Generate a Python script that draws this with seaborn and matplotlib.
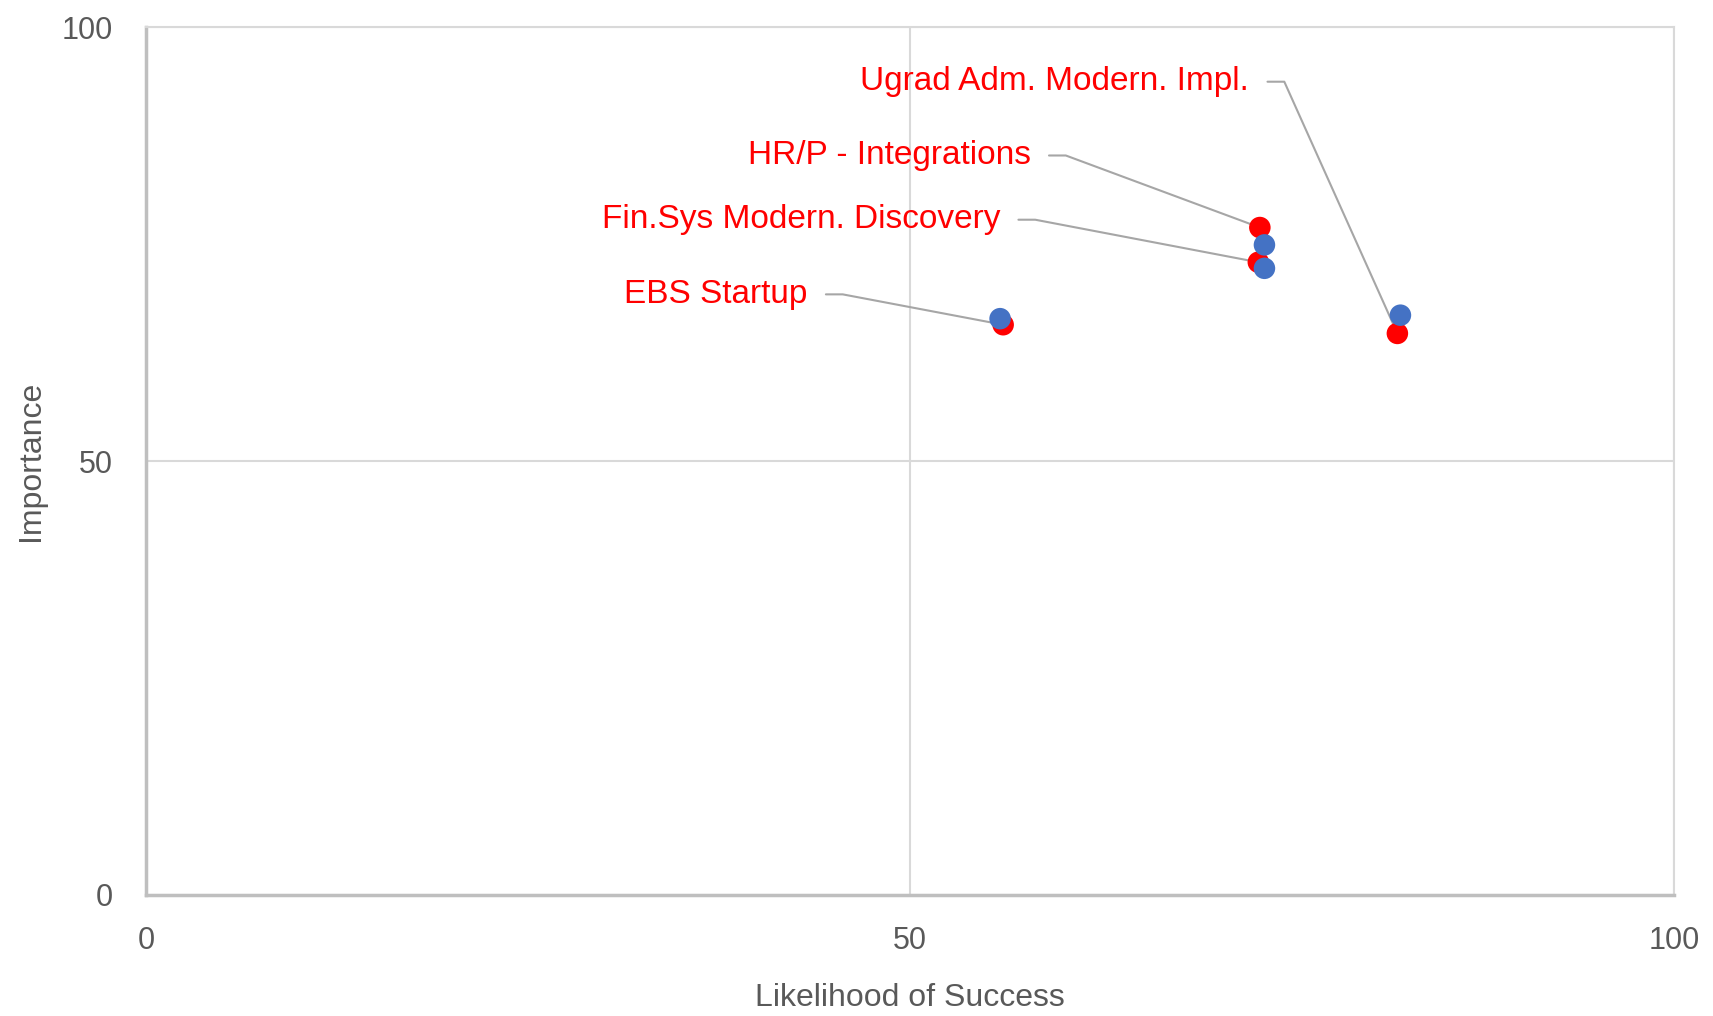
import matplotlib
matplotlib.use("Agg")
import matplotlib.pyplot as plt
import seaborn as sns
import pandas as pd

# data
projetos = ["EBS Startup", "HR/P - Integrations", "Fin.Sys Modern. Discovery", "Ugrad Adm. Modern. Impl."]
likelihood_red = [56.1, 72.9, 72.8, 81.9]
importance_red = [65.7, 76.9, 72.9, 64.7]
likelihood_blue = [55.9, 73.2, 73.2, 82.1]
importance_blue = [66.4, 74.9, 72.2, 66.8]
ticks = [0, 50, 100]

# where the data labels sit (right end of text, data units)
label_x = [43.3, 57.9, 55.9, 72.2]
label_y = [69.2, 85.2, 77.8, 93.7]

df = pd.concat([
    pd.DataFrame({'Projeto': projetos, 'Likelihood': likelihood_red, 'Importance': importance_red, 'Serie': 'A'}),
    pd.DataFrame({'Projeto': projetos, 'Likelihood': likelihood_blue, 'Importance': importance_blue, 'Serie': 'B'}),
], ignore_index=True)

sns.set_style("white")
plt.rcParams['font.family'] = ['Liberation Sans', 'DejaVu Sans']

fig = plt.figure(figsize=(17.13, 10.16), dpi=100)
ax = fig.add_axes([0.0852, 0.1191, 0.892, 0.8543])

# leader lines first so the dots sit on top
for i, nome in enumerate(projetos):
    x0 = label_x[i] + 1.2
    x1 = x0 + 1.1
    ax.plot([x0, x1, likelihood_red[i]], [label_y[i], label_y[i], importance_red[i]],
            color='#a6a6a6', lw=1.5, zorder=2)
    ax.text(label_x[i], label_y[i], nome, color='#ff0000', fontsize=24,
            ha='right', va='center', zorder=4)

sns.scatterplot(data=df, x='Likelihood', y='Importance', hue='Serie',
                palette={'A': '#ff0000', 'B': '#4472c4'}, s=240, linewidth=0,
                legend=False, ax=ax, zorder=3)

ax.set_xlim(0, 100)
ax.set_ylim(0, 100)
ax.set_xticks(ticks)
ax.set_yticks(ticks)
ax.grid(True, color='#d9d9d9', lw=1.5)
ax.tick_params(length=0, labelsize=22, labelcolor='#595959')
ax.tick_params(axis='x', pad=22)
ax.tick_params(axis='y', pad=24)

for s in ['top', 'right']:
    ax.spines[s].set_color('#d9d9d9')
    ax.spines[s].set_linewidth(1.5)
for s in ['left', 'bottom']:
    ax.spines[s].set_color('#bfbfbf')
    ax.spines[s].set_linewidth(2.5)

ax.set_xlabel('Likelihood of Success', fontsize=23, color='#595959', va='center')
ax.set_ylabel('Importance', fontsize=23, color='#595959', va='center')
ax.xaxis.set_label_coords(0.5, -0.119)
ax.yaxis.set_label_coords(-0.0755, 0.5)

fig.savefig('out.png', dpi=100)
